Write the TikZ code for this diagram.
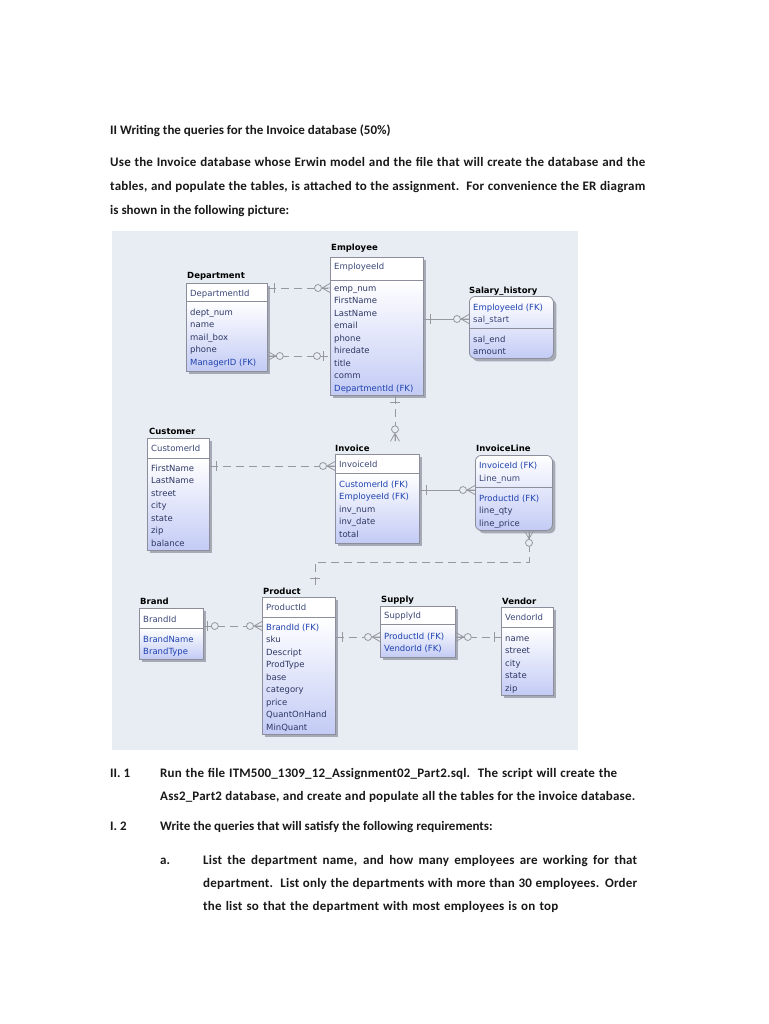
\documentclass[tikz,border=0pt]{standalone}
\usepackage{fontspec}
\setmainfont{Carlito}
\newfontfamily\spaced{Carlito}[LetterSpace=1.5]
\newfontfamily\erfont{DejaVu Sans}
\usetikzlibrary{calc,shadows}
\definecolor{bgc}{RGB}{231,237,243}
\definecolor{boxline}{RGB}{140,142,155}
\definecolor{lav}{RGB}{195,203,245}
\definecolor{relc}{RGB}{150,152,158}
\definecolor{attrc}{RGB}{45,55,100}
\definecolor{fkc}{RGB}{30,65,175}
\definecolor{keyc}{RGB}{60,72,120}
\definecolor{shadowc}{RGB}{165,170,180}
\definecolor{doctext}{RGB}{25,25,25}
\newcommand\fkattr[1]{\textcolor{fkc}{#1}}
\newcommand\docline[2]{\makebox[#1pt][s]{#2}}
\newcommand\attrlist[4]{%
  \foreach \t [count=\i] in {#4} {\node[eattr] (#1\i) at (#2,#3+\i*12.45-12.45) {\t};}}
\tikzset{
  ebox/.style={draw=boxline, line width=0.8pt, inner sep=0pt, anchor=north west,
    drop shadow={shadow xshift=3pt, shadow yshift=-3pt, fill=shadowc, opacity=1}},
  ehead/.style={ebox, fill=white},
  ebody/.style={ebox, top color=white, bottom color=lav},
  etitle/.style={font=\erfont\bfseries\fontsize{8.5}{10}\selectfont, anchor=base west, inner sep=0pt, text=black},
  eattr/.style={font=\erfont\fontsize{8.5}{10}\selectfont, anchor=base west, inner sep=0pt, text=attrc},
  ekey/.style={eattr, text=keyc},
  sepline/.style={draw=boxline, line width=0.8pt},
  rel/.style={draw=relc, line width=0.8pt},
  reldash/.style={rel, dash pattern=on 8pt off 5pt},
  sym/.style={draw=relc, line width=0.8pt, solid},
  doc/.style={font=\bfseries\fontsize{13}{15}\selectfont, anchor=base west, inner sep=0pt, text=doctext},
  docsp/.style={doc, font=\spaced\bfseries\fontsize{13}{15}\selectfont},
  pics/zmany/.style={code={
    \draw[sym] (-8,0) -- (0,-4.5) (-8,0) -- (0,4.5) (-8,0) -- (0,0);
    \draw[sym, fill=bgc] (-12,0) circle[radius=3.5pt];}},
  pics/one/.style={code={\draw[sym] (-7,-5) -- (-7,5);}},
  pics/zone/.style={code={\draw[sym] (-4,-5) -- (-4,5); \draw[sym, fill=bgc] (-11,0) circle[radius=3.5pt];}},
  pics/onez/.style={code={\draw[sym] (-7,-5) -- (-7,5); \draw[sym, fill=bgc] (-13,0) circle[radius=3.5pt];}},
}
\begin{document}
\begin{tikzpicture}[x=1pt,y=-1pt]
\useasboundingbox (0,0) rectangle (768,1024);
\fill[white] (0,0) rectangle (768,1024);
\fill[bgc] (112,231) rectangle (578,750);

% ---- document text
\node[doc] (t1) at (110,134.5) {II Writing the queries for the Invoice database (50\%)};
\node[docsp] (p1) at (110,166.5) {\docline{535}{Use the Invoice database whose Erwin model and the file that will create the database and the}};
\node[docsp] (p2) at (110,190.5) {\docline{535}{tables, and populate the tables, is attached to the assignment.\ \ For convenience the ER diagram}};
\node[doc] (p3) at (110,214.5) {is shown in the following picture:};

\node[doc] (n1) at (110,777.5) {II. 1};
\node[docsp] (q1) at (160,777.5) {\docline{457}{Run the file ITM500\_1309\_12\_Assignment02\_Part2.sql.\ \ The script will create the}};
\node[docsp] (q2) at (160,800.5) {\docline{475}{Ass2\_Part2 database, and create and populate all the tables for the invoice database.}};
\node[doc] (n2) at (110,830.5) {I. 2};
\node[doc] (q3) at (160,830.5) {Write the queries that will satisfy the following requirements:};
\node[doc] (na) at (160,864.5) {a.};
\node[docsp] (r1) at (203,864.5) {\docline{434}{List the department name, and how many employees are working for that}};
\node[docsp] (r2) at (203,887.5) {\docline{434}{department.\ \ List only the departments with more than 30 employees. Order}};
\node[docsp] (r3) at (203,910.5) {\docline{355}{the list so that the department with most employees is on top}};

% ---- entities
% Employee
\node[etitle] (emp-t) at (331,251) {Employee};
\node[ehead, minimum width=93pt, minimum height=23pt] (emp-h) at (330,257) {};
\node[ebody, minimum width=93pt, minimum height=115pt] (emp-b) at (330,280) {};
\node[ekey] (emp-k) at (334,269) {EmployeeId};
\attrlist{emp-a}{334}{291.5}{emp\_num,FirstName,LastName,email,phone,hiredate,title,comm,{\fkattr{DepartmentId (FK)}}}

% Department
\node[etitle] (dept-t) at (187,278) {Department};
\node[ehead, minimum width=81pt, minimum height=18pt] (dept-h) at (186,283) {};
\node[ebody, minimum width=81pt, minimum height=70pt] (dept-b) at (186,301) {};
\node[ekey] (dept-k) at (190,296.5) {DepartmentId};
\attrlist{dept-a}{190}{315.5}{dept\_num,name,mail\_box,phone,{\fkattr{ManagerID (FK)}}}

% Salary_history
\node[etitle] (sal-t) at (469,293) {Salary\_history};
\node[ebody, rounded corners=6pt, minimum width=84pt, minimum height=62pt] (sal) at (469,296) {};
\coordinate (y328) at (0,328);
\draw[sepline] (sal.west |- y328) -- (sal.east |- y328);
\node[eattr, text=fkc] (sal-k1) at (473,310.5) {EmployeeId (FK)};
\node[ekey] (sal-k2) at (473,322.5) {sal\_start};
\attrlist{sal-a}{473}{342.5}{sal\_end,amount}

% Customer
\node[etitle] (cust-t) at (149,434) {Customer};
\node[ehead, minimum width=62pt, minimum height=20pt] (cust-h) at (147,438) {};
\node[ebody, minimum width=62pt, minimum height=92pt] (cust-b) at (147,458) {};
\node[ekey] (cust-k) at (151,451.5) {CustomerId};
\attrlist{cust-a}{151}{471.5}{FirstName,LastName,street,city,state,zip,balance}

% Invoice
\node[etitle] (inv-t) at (335,451) {Invoice};
\node[ehead, minimum width=84pt, minimum height=19pt] (inv-h) at (335,454) {};
\node[ebody, minimum width=84pt, minimum height=70pt] (inv-b) at (335,473) {};
\node[ekey] (inv-k) at (339,467.5) {InvoiceId};
\attrlist{inv-a}{339}{487.5}{{\fkattr{CustomerId (FK)}},{\fkattr{EmployeeId (FK)}},inv\_num,inv\_date,total}

% InvoiceLine
\node[etitle] (invl-t) at (476,451) {InvoiceLine};
\node[ebody, rounded corners=6pt, minimum width=77pt, minimum height=75pt] (invl) at (475,455) {};
\coordinate (y487) at (0,487);
\draw[sepline] (invl.west |- y487) -- (invl.east |- y487);
\node[eattr, text=fkc] (invl-k1) at (479,468.5) {InvoiceId (FK)};
\node[ekey] (invl-k2) at (479,481.5) {Line\_num};
\attrlist{invl-a}{479}{501.5}{{\fkattr{ProductId (FK)}},line\_qty,line\_price}

% Brand
\node[etitle] (brand-t) at (140,604) {Brand};
\node[ehead, minimum width=64pt, minimum height=20pt] (brand-h) at (139,608) {};
\node[ebody, minimum width=64pt, minimum height=31pt] (brand-b) at (139,628) {};
\node[ekey] (brand-k) at (143,622.5) {BrandId};
\attrlist{brand-a}{143}{642.5}{{\fkattr{BrandName}},{\fkattr{BrandType}}}

% Product
\node[etitle] (prod-t) at (263,594) {Product};
\node[ehead, minimum width=73pt, minimum height=20pt] (prod-h) at (262,597) {};
\node[ebody, minimum width=73pt, minimum height=117pt] (prod-b) at (262,617) {};
\node[ekey] (prod-k) at (266,610.5) {ProductId};
\attrlist{prod-a}{266}{630.5}{{\fkattr{BrandId (FK)}},sku,Descript,ProdType,base,category,price,QuantOnHand,MinQuant}

% Supply
\node[etitle] (sup-t) at (381,602) {Supply};
\node[ehead, minimum width=75pt, minimum height=18pt] (sup-h) at (380,606) {};
\node[ebody, minimum width=75pt, minimum height=33pt] (sup-b) at (380,624) {};
\node[ekey] (sup-k) at (384,618.5) {SupplyId};
\attrlist{sup-a}{384}{639.5}{{\fkattr{ProductId (FK)}},{\fkattr{VendorId (FK)}}}

% Vendor
\node[etitle] (ven-t) at (502,604) {Vendor};
\node[ehead, minimum width=52pt, minimum height=20pt] (ven-h) at (501,607) {};
\node[ebody, minimum width=52pt, minimum height=68pt] (ven-b) at (501,627) {};
\node[ekey] (ven-k) at (505,620.5) {VendorId};
\attrlist{ven-a}{505}{641.5}{name,street,city,state,zip}

% ---- relationships
\coordinate (y288) at (0,288);
\coordinate (y356) at (0,356);
\coordinate (y319) at (0,319);
\coordinate (y466) at (0,466);
\coordinate (y490) at (0,490);
\coordinate (y562) at (0,562);
\coordinate (y626) at (0,626);
\coordinate (y637) at (0,637);
\coordinate (x395) at (395,0);
\coordinate (x529) at (529,0);
\coordinate (x315) at (315,0);

% Department - Employee
\draw[reldash] (dept-h.east |- y288) -- (emp-b.west |- y288);
\pic[rotate=180] at (dept-h.east |- y288) {one};
\pic at (emp-b.west |- y288) {zmany};
% Department.ManagerID - Employee
\draw[reldash] (dept-b.east |- y356) -- (emp-b.west |- y356);
\pic[rotate=180] at (dept-b.east |- y356) {zmany};
\pic at (emp-b.west |- y356) {onez};
% Employee - Salary_history
\draw[rel] (emp-b.east |- y319) -- (sal.west |- y319);
\pic[rotate=180] at (emp-b.east |- y319) {one};
\pic at (sal.west |- y319) {zmany};
% Employee - Invoice
\coordinate (invtop) at ($(x395 |- inv-t.north)+(0,-3)$);
\draw[reldash] (x395 |- emp-b.south) -- (invtop);
\pic[rotate=90] at (x395 |- emp-b.south) {one};
\pic[rotate=-90] at (invtop) {zmany};
% Customer - Invoice
\draw[reldash] (cust-b.east |- y466) -- (inv-h.west |- y466);
\pic[rotate=180] at (cust-b.east |- y466) {one};
\pic at (inv-h.west |- y466) {zmany};
% Invoice - InvoiceLine
\draw[rel] (inv-b.east |- y490) -- (invl.west |- y490);
\pic[rotate=180] at (inv-b.east |- y490) {one};
\pic at (invl.west |- y490) {zmany};
% Product - InvoiceLine
\coordinate (prodtop) at ($(x315 |- prod-t.north)+(0,-2)$);
\draw[reldash] (x529 |- invl.south) -- (x529 |- y562) -- (x315 |- y562) -- (prodtop);
\pic[rotate=90] at (x529 |- invl.south) {zmany};
\pic[rotate=-90] at (prodtop) {one};
% Brand - Product
\draw[reldash] (brand-h.east |- y626) -- (prod-b.west |- y626);
\pic[rotate=180] at (brand-h.east |- y626) {zone};
\pic at (prod-b.west |- y626) {zmany};
% Product - Supply
\draw[reldash] (prod-b.east |- y637) -- (sup-b.west |- y637);
\pic[rotate=180] at (prod-b.east |- y637) {one};
\pic at (sup-b.west |- y637) {zmany};
% Supply - Vendor
\draw[reldash] (sup-b.east |- y637) -- (ven-b.west |- y637);
\pic[rotate=180] at (sup-b.east |- y637) {zmany};
\pic at (ven-b.west |- y637) {one};
\end{tikzpicture}
\end{document}
